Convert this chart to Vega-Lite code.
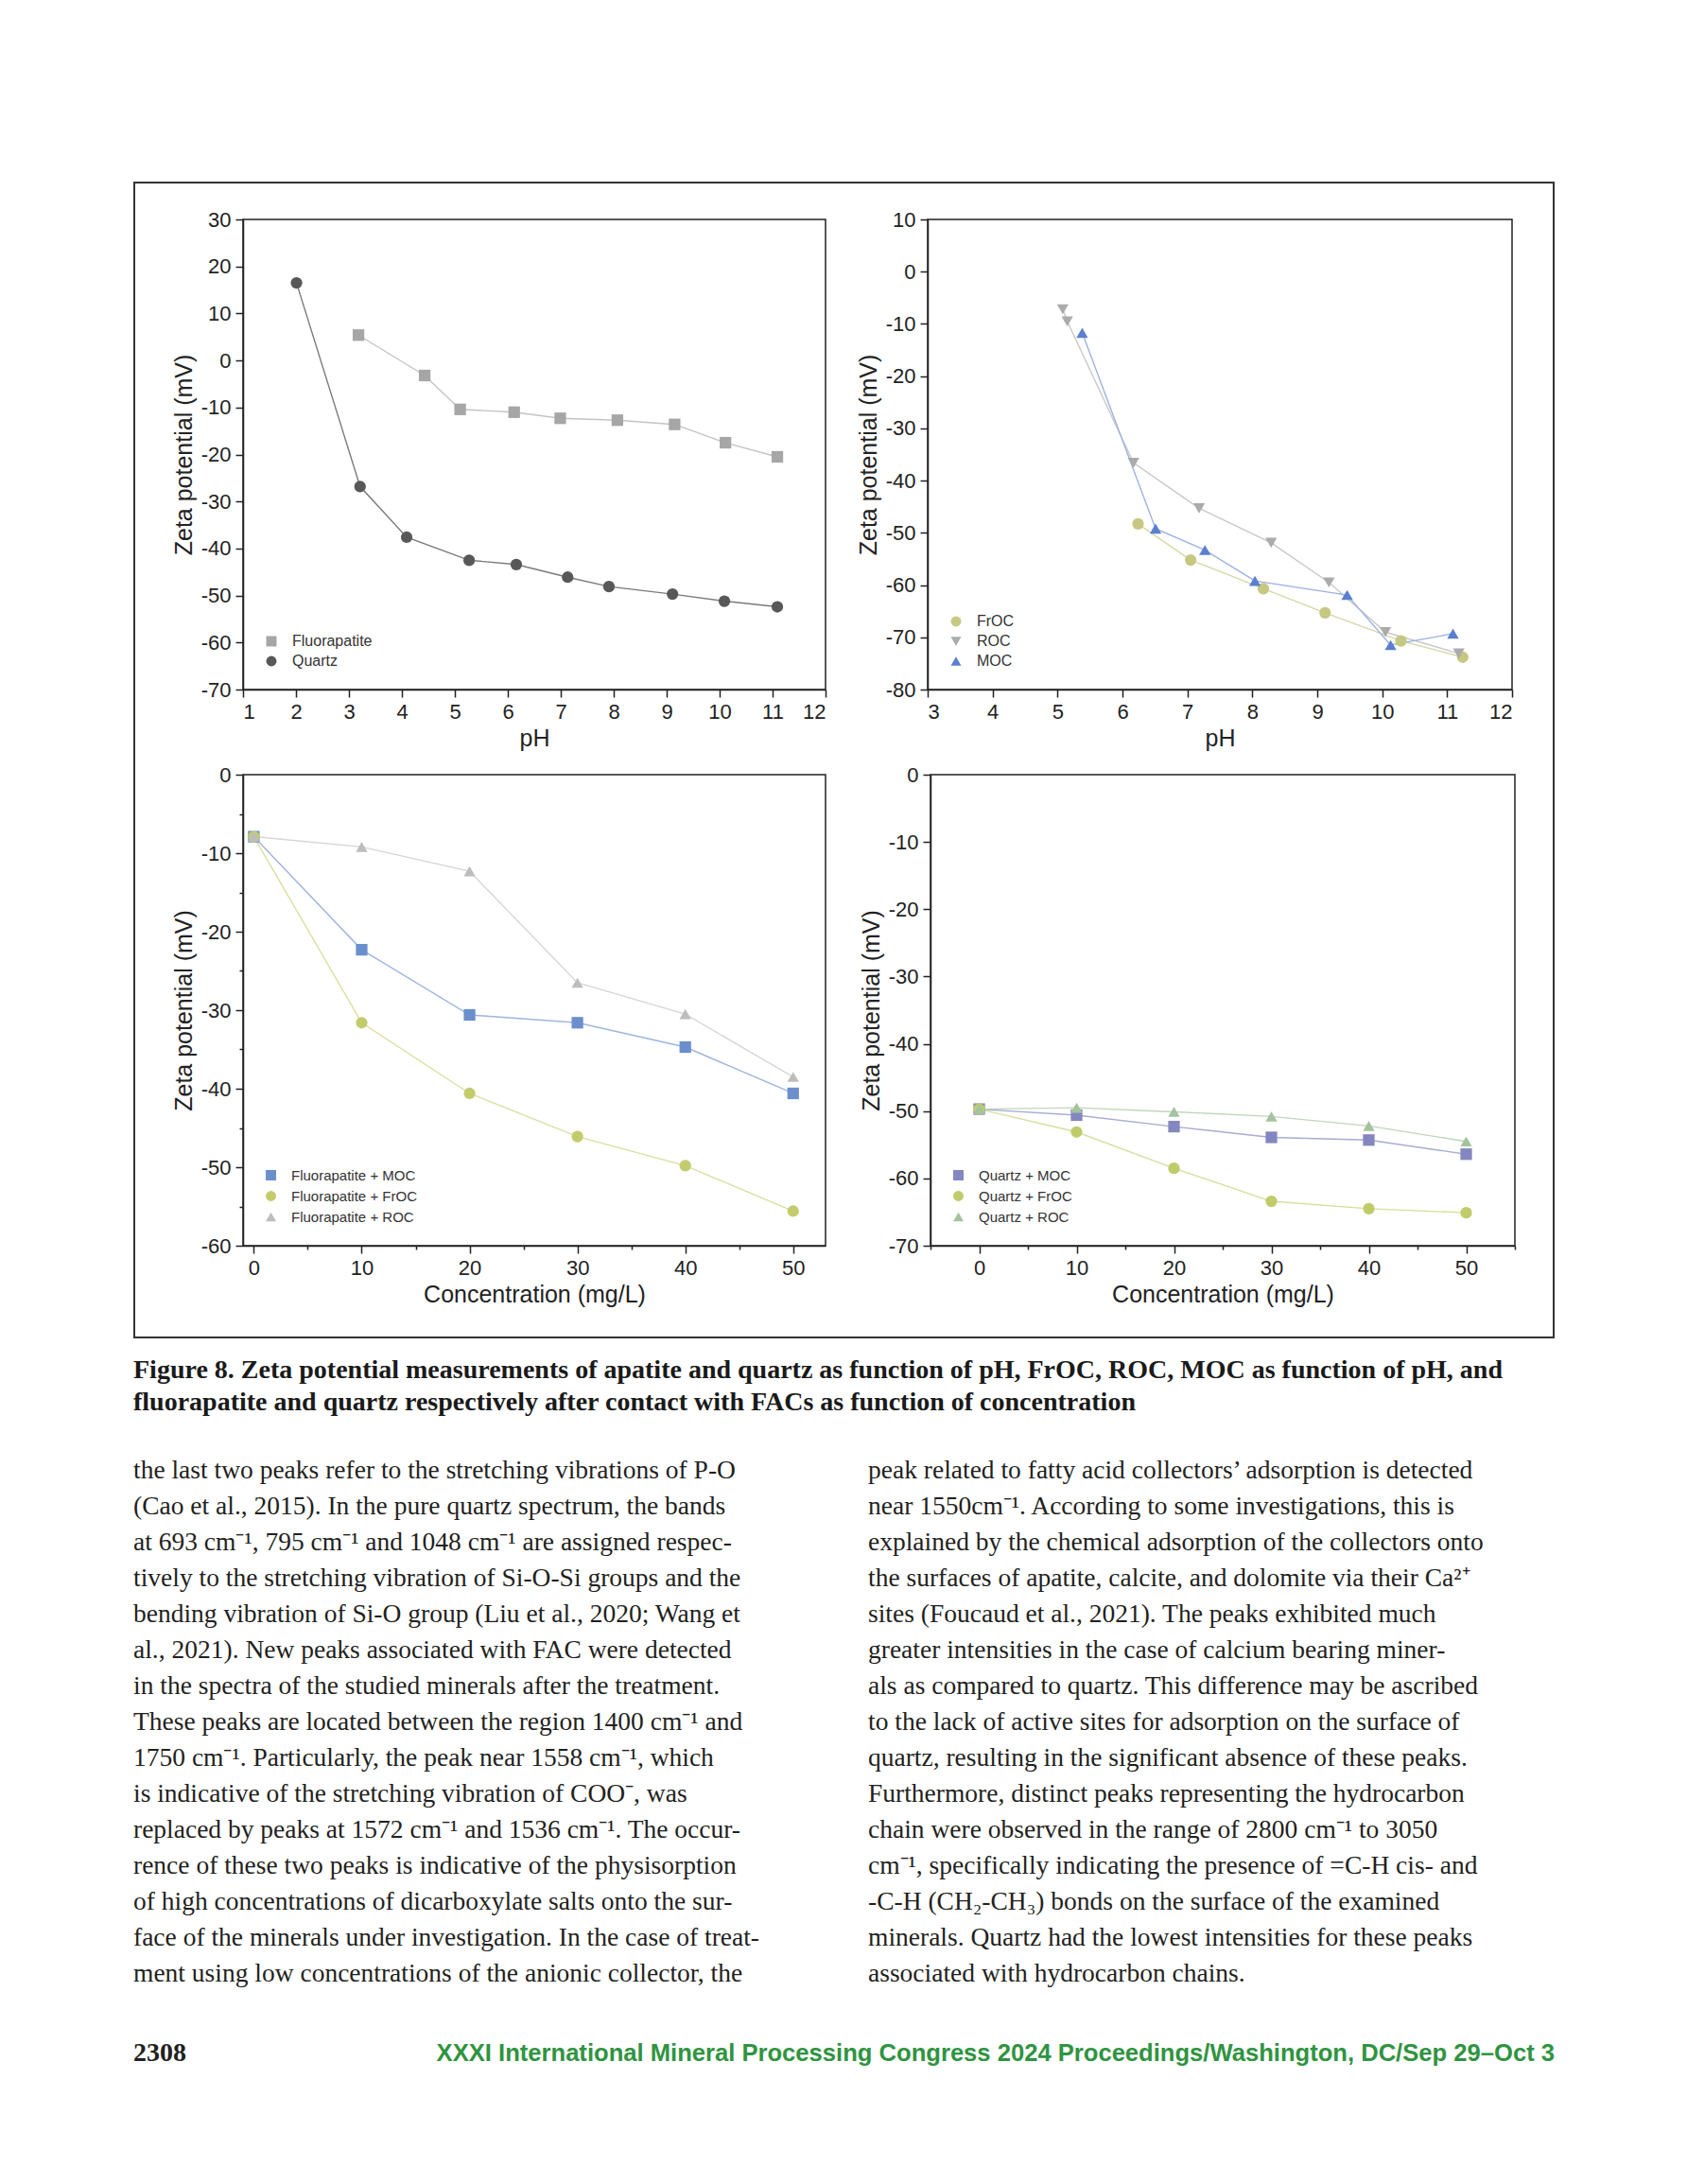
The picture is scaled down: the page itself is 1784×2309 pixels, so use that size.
{
  "$schema": "https://vega.github.io/schema/vega-lite/v6.json",
  "background": "white",
  "padding": {"left": 141, "top": 192, "right": 10, "bottom": 10},
  "spacing": 0,
  "resolve": {"scale": {"color": "independent", "shape": "independent"}, "legend": {"color": "independent", "shape": "independent"}},
  "vconcat": [
    {
      "spacing": 0,
      "resolve": {"scale": {"color": "independent", "shape": "independent"}, "legend": {"color": "independent", "shape": "independent"}},
      "hconcat": [
        {"width": 2, "height": 1223, "view": {"stroke": null, "fill": "#333333"}, "data": {"values": []}, "mark": "text"},
        {
          "spacing": 26,
          "resolve": {"scale": {"color": "independent", "shape": "independent"}, "legend": {"color": "independent", "shape": "independent"}},
          "vconcat": [
            {"width": 1499, "height": 2, "view": {"stroke": null, "fill": "#333333"}, "data": {"values": []}, "mark": "text"},
            {
              "spacing": 13,
              "resolve": {"scale": {"color": "independent", "shape": "independent"}, "legend": {"color": "independent", "shape": "independent"}},
              "vconcat": [
                {
                  "bounds": "flush",
                  "spacing": 108,
                  "resolve": {"scale": {"color": "independent", "shape": "independent"}, "legend": {"color": "independent", "shape": "independent"}},
                  "hconcat": [
                    {"width": 6, "height": 1, "view": {"stroke": null}, "data": {"values": []}, "mark": "text"},
                    {
                      "width": 616, "height": 497,
                      "data": {"values": [
                        {"s1": "Fluorapatite", "pH": 3.18, "zeta": 5.4},
                        {"s1": "Fluorapatite", "pH": 4.43, "zeta": -3.2},
                        {"s1": "Fluorapatite", "pH": 5.10, "zeta": -10.4},
                        {"s1": "Fluorapatite", "pH": 6.12, "zeta": -11.0},
                        {"s1": "Fluorapatite", "pH": 6.99, "zeta": -12.3},
                        {"s1": "Fluorapatite", "pH": 8.07, "zeta": -12.7},
                        {"s1": "Fluorapatite", "pH": 9.15, "zeta": -13.6},
                        {"s1": "Fluorapatite", "pH": 10.11, "zeta": -17.5},
                        {"s1": "Fluorapatite", "pH": 11.09, "zeta": -20.5},
                        {"s1": "Quartz", "pH": 2.01, "zeta": 16.5},
                        {"s1": "Quartz", "pH": 3.21, "zeta": -26.8},
                        {"s1": "Quartz", "pH": 4.09, "zeta": -37.6},
                        {"s1": "Quartz", "pH": 5.27, "zeta": -42.5},
                        {"s1": "Quartz", "pH": 6.16, "zeta": -43.4},
                        {"s1": "Quartz", "pH": 7.13, "zeta": -46.1},
                        {"s1": "Quartz", "pH": 7.91, "zeta": -48.1},
                        {"s1": "Quartz", "pH": 9.11, "zeta": -49.7},
                        {"s1": "Quartz", "pH": 10.09, "zeta": -51.2},
                        {"s1": "Quartz", "pH": 11.09, "zeta": -52.4}
                      ]},
                      "layer": [
                        {
                          "transform": [{"filter": "datum.s1 === 'Fluorapatite'"}],
                          "mark": {"type": "line", "strokeWidth": 1.4, "color": "#c4c4c4"},
                          "encoding": {
                            "x": {"field": "pH", "type": "quantitative", "scale": {"domain": [1, 12], "nice": false, "zero": false}},
                            "y": {"field": "zeta", "type": "quantitative", "scale": {"domain": [-70, 30], "nice": false, "zero": false}}
                          }
                        },
                        {
                          "transform": [{"filter": "datum.s1 === 'Quartz'"}],
                          "mark": {"type": "line", "strokeWidth": 1.4, "color": "#7a7a7a"},
                          "encoding": {
                            "x": {"field": "pH", "type": "quantitative", "scale": {"domain": [1, 12], "nice": false, "zero": false}},
                            "y": {"field": "zeta", "type": "quantitative", "scale": {"domain": [-70, 30], "nice": false, "zero": false}}
                          }
                        },
                        {
                          "mark": {"type": "point", "filled": true, "size": 150, "opacity": 1},
                          "encoding": {
                            "x": {"field": "pH", "type": "quantitative", "scale": {"domain": [1, 12], "nice": false, "zero": false}, "axis": {"title": "pH", "format": "d", "values": [1, 1.5, 2, 2.5, 3, 3.5, 4, 4.5, 5, 5.5, 6, 6.5, 7, 7.5, 8, 8.5, 9, 9.5, 10, 10.5, 11, 11.5, 12], "labelExpr": "datum.value % 1 === 0 ? datum.label : ''", "tickSize": {"condition": {"test": "datum.value % 1 !== 0", "value": 4}, "value": 8}}},
                            "y": {"field": "zeta", "type": "quantitative", "scale": {"domain": [-70, 30], "nice": false, "zero": false}, "axis": {"title": "Zeta potential (mV)", "values": [-70, -65, -60, -55, -50, -45, -40, -35, -30, -25, -20, -15, -10, -5, 0, 5, 10, 15, 20, 25, 30], "labelExpr": "datum.value % 10 === 0 ? replace(datum.label, '−', '-') : ''", "tickSize": {"condition": {"test": "datum.value % 10 !== 0", "value": 4}, "value": 8}}},
                            "color": {"field": "s1", "type": "nominal", "scale": {"domain": ["Fluorapatite", "Quartz"], "range": ["#a6a6a6", "#585858"]}, "legend": {"title": null}},
                            "shape": {"field": "s1", "type": "nominal", "scale": {"domain": ["Fluorapatite", "Quartz"], "range": ["square", "circle"]}, "legend": {"title": null}}
                          }
                        }
                      ]
                    },
                    {
                      "width": 618, "height": 497,
                      "data": {"values": [
                        {"s2": "FrOC", "pH": 6.24, "zeta": -48.3},
                        {"s2": "FrOC", "pH": 7.05, "zeta": -55.2},
                        {"s2": "FrOC", "pH": 8.17, "zeta": -60.7},
                        {"s2": "FrOC", "pH": 9.12, "zeta": -65.3},
                        {"s2": "FrOC", "pH": 10.29, "zeta": -70.7},
                        {"s2": "FrOC", "pH": 11.24, "zeta": -73.8},
                        {"s2": "ROC", "pH": 5.08, "zeta": -7.2},
                        {"s2": "ROC", "pH": 5.15, "zeta": -9.5},
                        {"s2": "ROC", "pH": 6.17, "zeta": -36.6},
                        {"s2": "ROC", "pH": 7.18, "zeta": -45.3},
                        {"s2": "ROC", "pH": 8.29, "zeta": -51.9},
                        {"s2": "ROC", "pH": 9.18, "zeta": -59.5},
                        {"s2": "ROC", "pH": 10.05, "zeta": -69.0},
                        {"s2": "ROC", "pH": 11.18, "zeta": -73.1},
                        {"s2": "MOC", "pH": 5.38, "zeta": -11.7},
                        {"s2": "MOC", "pH": 6.51, "zeta": -49.2},
                        {"s2": "MOC", "pH": 7.27, "zeta": -53.3},
                        {"s2": "MOC", "pH": 8.04, "zeta": -59.2},
                        {"s2": "MOC", "pH": 9.46, "zeta": -61.9},
                        {"s2": "MOC", "pH": 10.13, "zeta": -71.5},
                        {"s2": "MOC", "pH": 11.09, "zeta": -69.3}
                      ]},
                      "layer": [
                        {
                          "transform": [{"filter": "datum.s2 === 'FrOC'"}],
                          "mark": {"type": "line", "strokeWidth": 1.4, "color": "#d6d8a8"},
                          "encoding": {
                            "x": {"field": "pH", "type": "quantitative", "scale": {"domain": [3, 12], "nice": false, "zero": false}},
                            "y": {"field": "zeta", "type": "quantitative", "scale": {"domain": [-80, 10], "nice": false, "zero": false}}
                          }
                        },
                        {
                          "transform": [{"filter": "datum.s2 === 'ROC'"}],
                          "mark": {"type": "line", "strokeWidth": 1.4, "color": "#c8c8c8"},
                          "encoding": {
                            "x": {"field": "pH", "type": "quantitative", "scale": {"domain": [3, 12], "nice": false, "zero": false}},
                            "y": {"field": "zeta", "type": "quantitative", "scale": {"domain": [-80, 10], "nice": false, "zero": false}}
                          }
                        },
                        {
                          "transform": [{"filter": "datum.s2 === 'MOC'"}],
                          "mark": {"type": "line", "strokeWidth": 1.4, "color": "#9db2e2"},
                          "encoding": {
                            "x": {"field": "pH", "type": "quantitative", "scale": {"domain": [3, 12], "nice": false, "zero": false}},
                            "y": {"field": "zeta", "type": "quantitative", "scale": {"domain": [-80, 10], "nice": false, "zero": false}}
                          }
                        },
                        {
                          "mark": {"type": "point", "filled": true, "size": 150, "opacity": 1},
                          "encoding": {
                            "x": {"field": "pH", "type": "quantitative", "scale": {"domain": [3, 12], "nice": false, "zero": false}, "axis": {"title": "pH", "format": "d", "values": [3, 3.5, 4, 4.5, 5, 5.5, 6, 6.5, 7, 7.5, 8, 8.5, 9, 9.5, 10, 10.5, 11, 11.5, 12], "labelExpr": "datum.value % 1 === 0 ? datum.label : ''", "tickSize": {"condition": {"test": "datum.value % 1 !== 0", "value": 4}, "value": 8}}},
                            "y": {"field": "zeta", "type": "quantitative", "scale": {"domain": [-80, 10], "nice": false, "zero": false}, "axis": {"title": "Zeta potential (mV)", "values": [-80, -75, -70, -65, -60, -55, -50, -45, -40, -35, -30, -25, -20, -15, -10, -5, 0, 5, 10], "labelExpr": "datum.value % 10 === 0 ? replace(datum.label, '−', '-') : ''", "tickSize": {"condition": {"test": "datum.value % 10 !== 0", "value": 4}, "value": 8}}},
                            "color": {"field": "s2", "type": "nominal", "scale": {"domain": ["FrOC", "ROC", "MOC"], "range": ["#c6c882", "#ababab", "#5a7fcf"]}, "legend": {"title": null}},
                            "shape": {"field": "s2", "type": "nominal", "scale": {"domain": ["FrOC", "ROC", "MOC"], "range": ["circle", "triangle-down", "triangle-up"]}, "legend": {"title": null}}
                          }
                        }
                      ]
                    }
                  ]
                },
                {
                  "bounds": "flush",
                  "spacing": 111,
                  "resolve": {"scale": {"color": "independent", "shape": "independent"}, "legend": {"color": "independent", "shape": "independent"}},
                  "hconcat": [
                    {"width": 3, "height": 1, "view": {"stroke": null}, "data": {"values": []}, "mark": "text"},
                    {
                      "width": 616, "height": 498,
                      "data": {"values": [
                        {"s3": "Fluorapatite + MOC", "conc": 0, "zeta": -7.9},
                        {"s3": "Fluorapatite + MOC", "conc": 10, "zeta": -22.3},
                        {"s3": "Fluorapatite + MOC", "conc": 20, "zeta": -30.6},
                        {"s3": "Fluorapatite + MOC", "conc": 30, "zeta": -31.6},
                        {"s3": "Fluorapatite + MOC", "conc": 40, "zeta": -34.7},
                        {"s3": "Fluorapatite + MOC", "conc": 50, "zeta": -40.6},
                        {"s3": "Fluorapatite + FrOC", "conc": 0, "zeta": -7.9},
                        {"s3": "Fluorapatite + FrOC", "conc": 10, "zeta": -31.6},
                        {"s3": "Fluorapatite + FrOC", "conc": 20, "zeta": -40.6},
                        {"s3": "Fluorapatite + FrOC", "conc": 30, "zeta": -46.1},
                        {"s3": "Fluorapatite + FrOC", "conc": 40, "zeta": -49.8},
                        {"s3": "Fluorapatite + FrOC", "conc": 50, "zeta": -55.6},
                        {"s3": "Fluorapatite + ROC", "conc": 0, "zeta": -7.9},
                        {"s3": "Fluorapatite + ROC", "conc": 10, "zeta": -9.2},
                        {"s3": "Fluorapatite + ROC", "conc": 20, "zeta": -12.3},
                        {"s3": "Fluorapatite + ROC", "conc": 30, "zeta": -26.5},
                        {"s3": "Fluorapatite + ROC", "conc": 40, "zeta": -30.5},
                        {"s3": "Fluorapatite + ROC", "conc": 50, "zeta": -38.5}
                      ]},
                      "layer": [
                        {
                          "transform": [{"filter": "datum.s3 === 'Fluorapatite + MOC'"}],
                          "mark": {"type": "line", "strokeWidth": 1.4, "color": "#9fb5de"},
                          "encoding": {
                            "x": {"field": "conc", "type": "quantitative", "scale": {"domain": [-1, 53], "nice": false, "zero": false}},
                            "y": {"field": "zeta", "type": "quantitative", "scale": {"domain": [-60, 0], "nice": false, "zero": false}}
                          }
                        },
                        {
                          "transform": [{"filter": "datum.s3 === 'Fluorapatite + FrOC'"}],
                          "mark": {"type": "line", "strokeWidth": 1.4, "color": "#dadf9f"},
                          "encoding": {
                            "x": {"field": "conc", "type": "quantitative", "scale": {"domain": [-1, 53], "nice": false, "zero": false}},
                            "y": {"field": "zeta", "type": "quantitative", "scale": {"domain": [-60, 0], "nice": false, "zero": false}}
                          }
                        },
                        {
                          "transform": [{"filter": "datum.s3 === 'Fluorapatite + ROC'"}],
                          "mark": {"type": "line", "strokeWidth": 1.4, "color": "#d6d6d6"},
                          "encoding": {
                            "x": {"field": "conc", "type": "quantitative", "scale": {"domain": [-1, 53], "nice": false, "zero": false}},
                            "y": {"field": "zeta", "type": "quantitative", "scale": {"domain": [-60, 0], "nice": false, "zero": false}}
                          }
                        },
                        {
                          "mark": {"type": "point", "filled": true, "size": 150, "opacity": 1},
                          "encoding": {
                            "x": {"field": "conc", "type": "quantitative", "scale": {"domain": [-1, 53], "nice": false, "zero": false}, "axis": {"title": "Concentration (mg/L)", "values": [0, 5, 10, 15, 20, 25, 30, 35, 40, 45, 50], "labelExpr": "datum.value % 10 === 0 ? datum.label : ''", "tickSize": {"condition": {"test": "datum.value % 10 !== 0", "value": 4}, "value": 8}}},
                            "y": {"field": "zeta", "type": "quantitative", "scale": {"domain": [-60, 0], "nice": false, "zero": false}, "axis": {"title": "Zeta potential (mV)", "values": [-60, -55, -50, -45, -40, -35, -30, -25, -20, -15, -10, -5, 0], "labelExpr": "datum.value % 10 === 0 ? replace(datum.label, '−', '-') : ''", "tickSize": {"condition": {"test": "datum.value % 10 !== 0", "value": 4}, "value": 8}}},
                            "color": {"field": "s3", "type": "nominal", "scale": {"domain": ["Fluorapatite + MOC", "Fluorapatite + FrOC", "Fluorapatite + ROC"], "range": ["#6b8fcc", "#c4cb6c", "#bdbdbd"]}, "legend": {"title": null, "labelFontSize": 15, "rowPadding": 6}},
                            "shape": {"field": "s3", "type": "nominal", "scale": {"domain": ["Fluorapatite + MOC", "Fluorapatite + FrOC", "Fluorapatite + ROC"], "range": ["square", "circle", "triangle-up"]}, "legend": {"title": null, "labelFontSize": 15, "rowPadding": 6}}
                          }
                        }
                      ]
                    },
                    {
                      "width": 618, "height": 498,
                      "data": {"values": [
                        {"s4": "Quartz + MOC", "conc": 0, "zeta": -49.7},
                        {"s4": "Quartz + MOC", "conc": 10, "zeta": -50.6},
                        {"s4": "Quartz + MOC", "conc": 20, "zeta": -52.3},
                        {"s4": "Quartz + MOC", "conc": 30, "zeta": -53.9},
                        {"s4": "Quartz + MOC", "conc": 40, "zeta": -54.3},
                        {"s4": "Quartz + MOC", "conc": 50, "zeta": -56.4},
                        {"s4": "Quartz + FrOC", "conc": 0, "zeta": -49.7},
                        {"s4": "Quartz + FrOC", "conc": 10, "zeta": -53.1},
                        {"s4": "Quartz + FrOC", "conc": 20, "zeta": -58.5},
                        {"s4": "Quartz + FrOC", "conc": 30, "zeta": -63.4},
                        {"s4": "Quartz + FrOC", "conc": 40, "zeta": -64.5},
                        {"s4": "Quartz + FrOC", "conc": 50, "zeta": -65.1},
                        {"s4": "Quartz + ROC", "conc": 0, "zeta": -49.7},
                        {"s4": "Quartz + ROC", "conc": 10, "zeta": -49.5},
                        {"s4": "Quartz + ROC", "conc": 20, "zeta": -50.1},
                        {"s4": "Quartz + ROC", "conc": 30, "zeta": -50.8},
                        {"s4": "Quartz + ROC", "conc": 40, "zeta": -52.2},
                        {"s4": "Quartz + ROC", "conc": 50, "zeta": -54.5}
                      ]},
                      "layer": [
                        {
                          "transform": [{"filter": "datum.s4 === 'Quartz + MOC'"}],
                          "mark": {"type": "line", "strokeWidth": 1.4, "color": "#a9abd3"},
                          "encoding": {
                            "x": {"field": "conc", "type": "quantitative", "scale": {"domain": [-5, 55], "nice": false, "zero": false}},
                            "y": {"field": "zeta", "type": "quantitative", "scale": {"domain": [-70, 0], "nice": false, "zero": false}}
                          }
                        },
                        {
                          "transform": [{"filter": "datum.s4 === 'Quartz + FrOC'"}],
                          "mark": {"type": "line", "strokeWidth": 1.4, "color": "#d6df9c"},
                          "encoding": {
                            "x": {"field": "conc", "type": "quantitative", "scale": {"domain": [-5, 55], "nice": false, "zero": false}},
                            "y": {"field": "zeta", "type": "quantitative", "scale": {"domain": [-70, 0], "nice": false, "zero": false}}
                          }
                        },
                        {
                          "transform": [{"filter": "datum.s4 === 'Quartz + ROC'"}],
                          "mark": {"type": "line", "strokeWidth": 1.4, "color": "#c0d6bb"},
                          "encoding": {
                            "x": {"field": "conc", "type": "quantitative", "scale": {"domain": [-5, 55], "nice": false, "zero": false}},
                            "y": {"field": "zeta", "type": "quantitative", "scale": {"domain": [-70, 0], "nice": false, "zero": false}}
                          }
                        },
                        {
                          "mark": {"type": "point", "filled": true, "size": 150, "opacity": 1},
                          "encoding": {
                            "x": {"field": "conc", "type": "quantitative", "scale": {"domain": [-5, 55], "nice": false, "zero": false}, "axis": {"title": "Concentration (mg/L)", "values": [-5, 0, 5, 10, 15, 20, 25, 30, 35, 40, 45, 50, 55], "labelExpr": "datum.value % 10 === 0 ? datum.label : ''", "tickSize": {"condition": {"test": "datum.value % 10 !== 0", "value": 4}, "value": 8}}},
                            "y": {"field": "zeta", "type": "quantitative", "scale": {"domain": [-70, 0], "nice": false, "zero": false}, "axis": {"title": "Zeta potential (mV)", "values": [-70, -65, -60, -55, -50, -45, -40, -35, -30, -25, -20, -15, -10, -5, 0], "labelExpr": "datum.value % 10 === 0 ? replace(datum.label, '−', '-') : ''", "tickSize": {"condition": {"test": "datum.value % 10 !== 0", "value": 4}, "value": 8}}},
                            "color": {"field": "s4", "type": "nominal", "scale": {"domain": ["Quartz + MOC", "Quartz + FrOC", "Quartz + ROC"], "range": ["#8487bf", "#c0cb6a", "#a5c39e"]}, "legend": {"title": null, "labelFontSize": 15, "rowPadding": 6}},
                            "shape": {"field": "s4", "type": "nominal", "scale": {"domain": ["Quartz + MOC", "Quartz + FrOC", "Quartz + ROC"], "range": ["square", "circle", "triangle-up"]}, "legend": {"title": null, "labelFontSize": 15, "rowPadding": 6}}
                          }
                        }
                      ]
                    }
                  ]
                }
              ]
            },
            {
              "spacing": 4,
              "vconcat": [
                {"width": 1, "height": 1, "view": {"stroke": null}, "data": {"values": []}, "mark": "text"},
                {"width": 1499, "height": 2, "view": {"stroke": null, "fill": "#333333"}, "data": {"values": []}, "mark": "text"}
              ]
            }
          ]
        },
        {"width": 2, "height": 1223, "view": {"stroke": null, "fill": "#333333"}, "data": {"values": []}, "mark": "text"}
      ]
    },
    {
      "width": 1503, "height": 102, "view": {"stroke": null},
      "data": {"values": [
        {"col": "L", "line": 1, "text": "Figure 8. Zeta potential measurements of apatite and quartz as function of pH, FrOC, ROC, MOC as function of pH, and"},
        {"col": "L", "line": 2, "text": "fluorapatite and quartz respectively after contact with FACs as function of concentration"}
      ]},
      "mark": {"type": "text", "align": "left", "baseline": "middle", "font": "Liberation Serif", "fontSize": 28, "fontWeight": "bold", "color": "#1a1a1a"},
      "encoding": {
        "x": {"field": "col", "type": "nominal", "scale": {"type": "point", "padding": 0, "align": 0}, "axis": null},
        "y": {"field": "line", "type": "ordinal", "scale": {"type": "point", "padding": 1}, "axis": null},
        "text": {"field": "text"}
      }
    },
    {
      "width": 777, "height": 608, "view": {"stroke": null},
      "data": {"values": [
        {"col": "L", "line": 1, "text": "the last two peaks refer to the stretching vibrations of P-O"},
        {"col": "L", "line": 2, "text": "(Cao et al., 2015). In the pure quartz spectrum, the bands"},
        {"col": "L", "line": 3, "text": "at 693 cm⁻¹, 795 cm⁻¹ and 1048 cm⁻¹ are assigned respec-"},
        {"col": "L", "line": 4, "text": "tively to the stretching vibration of Si-O-Si groups and the"},
        {"col": "L", "line": 5, "text": "bending vibration of Si-O group (Liu et al., 2020; Wang et"},
        {"col": "L", "line": 6, "text": "al., 2021). New peaks associated with FAC were detected"},
        {"col": "L", "line": 7, "text": "in the spectra of the studied minerals after the treatment."},
        {"col": "L", "line": 8, "text": "These peaks are located between the region 1400 cm⁻¹ and"},
        {"col": "L", "line": 9, "text": "1750 cm⁻¹. Particularly, the peak near 1558 cm⁻¹, which"},
        {"col": "L", "line": 10, "text": "is indicative of the stretching vibration of COO⁻, was"},
        {"col": "L", "line": 11, "text": "replaced by peaks at 1572 cm⁻¹ and 1536 cm⁻¹. The occur-"},
        {"col": "L", "line": 12, "text": "rence of these two peaks is indicative of the physisorption"},
        {"col": "L", "line": 13, "text": "of high concentrations of dicarboxylate salts onto the sur-"},
        {"col": "L", "line": 14, "text": "face of the minerals under investigation. In the case of treat-"},
        {"col": "L", "line": 15, "text": "ment using low concentrations of the anionic collector, the"},
        {"col": "R", "line": 1, "text": "peak related to fatty acid collectors’ adsorption is detected"},
        {"col": "R", "line": 2, "text": "near 1550cm⁻¹. According to some investigations, this is"},
        {"col": "R", "line": 3, "text": "explained by the chemical adsorption of the collectors onto"},
        {"col": "R", "line": 4, "text": "the surfaces of apatite, calcite, and dolomite via their Ca²⁺"},
        {"col": "R", "line": 5, "text": "sites (Foucaud et al., 2021). The peaks exhibited much"},
        {"col": "R", "line": 6, "text": "greater intensities in the case of calcium bearing miner-"},
        {"col": "R", "line": 7, "text": "als as compared to quartz. This difference may be ascribed"},
        {"col": "R", "line": 8, "text": "to the lack of active sites for adsorption on the surface of"},
        {"col": "R", "line": 9, "text": "quartz, resulting in the significant absence of these peaks."},
        {"col": "R", "line": 10, "text": "Furthermore, distinct peaks representing the hydrocarbon"},
        {"col": "R", "line": 11, "text": "chain were observed in the range of 2800 cm⁻¹ to 3050"},
        {"col": "R", "line": 12, "text": "cm⁻¹, specifically indicating the presence of =C-H cis- and"},
        {"col": "R", "line": 13, "text": "-C-H (CH₂-CH₃) bonds on the surface of the examined"},
        {"col": "R", "line": 14, "text": "minerals. Quartz had the lowest intensities for these peaks"},
        {"col": "R", "line": 15, "text": "associated with hydrocarbon chains."}
      ]},
      "mark": {"type": "text", "align": "left", "baseline": "middle", "font": "Liberation Serif", "fontSize": 27.5, "color": "#231f20"},
      "encoding": {
        "x": {"field": "col", "type": "nominal", "scale": {"type": "point", "padding": 0}, "axis": null},
        "y": {"field": "line", "type": "ordinal", "scale": {"type": "point", "padding": 1}, "axis": null},
        "text": {"field": "text"}
      }
    },
    {
      "width": 1503, "height": 91, "view": {"stroke": null},
      "layer": [
        {
          "data": {"values": [{"col": "L", "line": 1, "text": "2308"}]},
          "mark": {"type": "text", "align": "left", "baseline": "middle", "font": "Liberation Serif", "fontSize": 28, "fontWeight": "bold", "color": "#231f20"},
          "encoding": {
            "x": {"field": "col", "type": "nominal", "scale": {"type": "point", "padding": 0, "domain": ["L", "R"]}, "axis": null},
            "y": {"field": "line", "type": "ordinal", "scale": {"type": "point", "padding": 1}, "axis": null},
            "text": {"field": "text"}
          }
        },
        {
          "data": {"values": [{"col": "R", "line": 1, "text": "XXXI International Mineral Processing Congress 2024 Proceedings/Washington, DC/Sep 29–Oct 3"}]},
          "mark": {"type": "text", "align": "right", "baseline": "middle", "font": "Liberation Sans", "fontSize": 25.6, "fontWeight": "bold", "color": "#2f9440"},
          "encoding": {
            "x": {"field": "col", "type": "nominal", "scale": {"type": "point", "padding": 0, "domain": ["L", "R"]}, "axis": null},
            "y": {"field": "line", "type": "ordinal", "scale": {"type": "point", "padding": 1}, "axis": null},
            "text": {"field": "text"}
          }
        }
      ]
    }
  ],
  "config": {
    "view": {"stroke": "#222222", "strokeWidth": 1.5},
    "axis": {
      "labelFont": "Liberation Sans", "labelFontSize": 22, "labelColor": "#222222", "labelPadding": 5, "labelOverlap": false,
      "titleFont": "Liberation Sans", "titleFontSize": 25, "titleFontWeight": "normal", "titleColor": "#222222", "titlePadding": 5,
      "domainColor": "#222222", "domainWidth": 1.5, "tickColor": "#222222", "tickWidth": 1.5, "grid": false
    },
    "legend": {
      "orient": "bottom-left", "offset": 22, "labelFont": "Liberation Sans", "labelFontSize": 16, "labelColor": "#333333",
      "symbolSize": 120, "rowPadding": 5, "labelOffset": 14
    }
  }
}
